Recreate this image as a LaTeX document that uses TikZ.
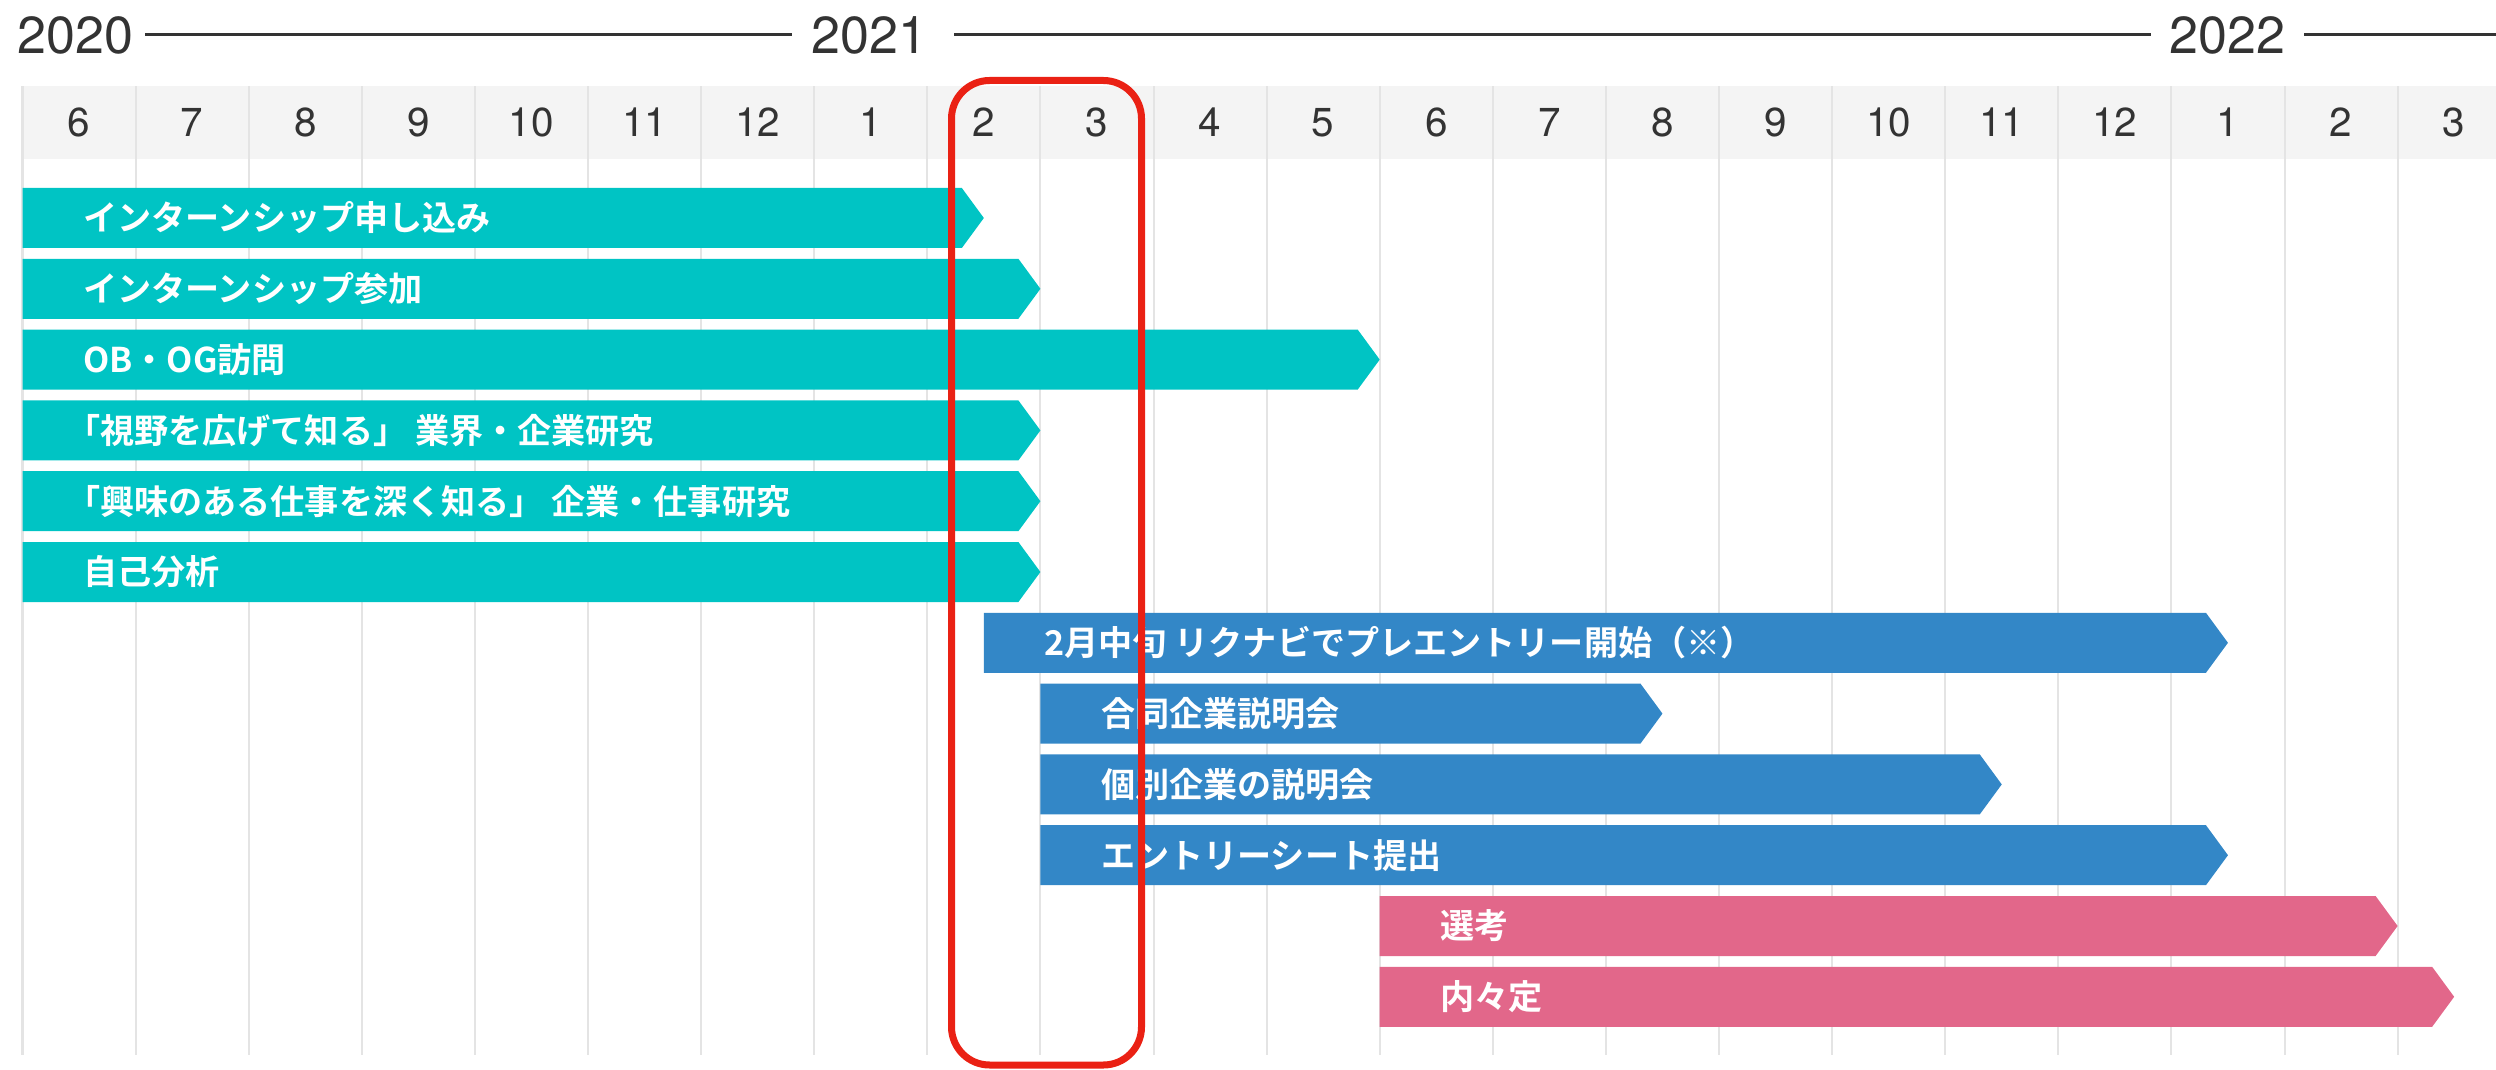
\documentclass[tikz,border=0pt]{standalone}
\usepackage{fontspec}
\setmainfont{TeX Gyre Heros}
\newfontfamily\jpfont{Noto Sans CJK JP}[BoldFont={Noto Sans CJK JP Bold}]

\definecolor{ink}{RGB}{51,51,51}
\definecolor{headgray}{RGB}{244,244,244}
\definecolor{gridgray}{RGB}{228,228,228}
\definecolor{barteal}{RGB}{0,196,196}
\definecolor{barblue}{RGB}{51,135,199}
\definecolor{barpink}{RGB}{226,103,138}
\definecolor{focusred}{RGB}{234,33,20}

% [inset]{name}{row}{start month}{tip month}{colour}{text}
\newcommand{\ganttbar}[7][60]{%
  \pgfmathsetmacro{\ya}{188+70.8*#3}
  \pgfmathsetmacro{\yb}{\ya+60}
  \pgfmathsetmacro{\ym}{\ya+30}
  \pgfmathsetmacro{\xa}{22.5+113.1*#4}
  \pgfmathsetmacro{\xt}{22.5+113.1*#5}
  \pgfmathsetmacro{\xe}{\xt-22}
  \fill[#6] (\xa,\ya) -- (\xe,\ya) -- (\xt,\ym) -- (\xe,\yb) -- (\xa,\yb) -- cycle;
  \node[bartext] (#2) at (\xa+#1,\ym) {#7};
}

\begin{document}
\begin{tikzpicture}[
  x=0.01cm, y=-0.01cm,
  year/.style={anchor=west, inner sep=0pt, text=ink, font=\fontsize{14.8pt}{15pt}\selectfont},
  month/.style={inner sep=0pt, text=ink, font=\fontsize{11.5pt}{12pt}\selectfont},
  bartext/.style={anchor=west, inner sep=0pt, text=white, font=\jpfont\bfseries\fontsize{9.7pt}{11pt}\selectfont},
  yearline/.style={draw=ink, line width=0.03cm},
  gridline/.style={draw=gridgray, line width=0.02cm},
  focus/.style={draw=focusred, line width=0.07cm, rounded corners=0.38cm}
]
\clip (0,0) rectangle (2496,1070);

% Header and grid
\fill[headgray] (22.5,86) rectangle (2520,159);
\foreach \i in {0,...,22}
  \draw[gridline] (22.5+113.1*\i,86) -- (22.5+113.1*\i,1055);
\foreach \m [count=\i from 0] in {6,7,8,9,10,11,12,1,2,3,4,5,6,7,8,9,10,11,12,1,2,3}
  \node[month] (m\i) at (79.05+113.1*\i,122.5) {\m};

% Years
\node[year] (y2020) at (17,35) {2020};
\node[year] (y2021) at (811,35) {2021};
\node[year] (y2022) at (2169,35) {2022};
\coordinate (yend) at (2496,35);
\draw[yearline] ([xshift=0.11cm]y2020.east) -- ([xshift=-0.19cm]y2021.west);
\draw[yearline] ([xshift=0.26cm]y2021.east) -- ([xshift=-0.18cm]y2022.west);
\draw[yearline] ([xshift=0.18cm]y2022.east) -- (yend);

% Bars
\ganttbar{b1}{0}{0}{8.5}{barteal}{インターンシップ申し込み}
\ganttbar{b2}{1}{0}{9}{barteal}{インターンシップ参加}
\ganttbar{b3}{2}{0}{12}{barteal}{OB・OG訪問}
\ganttbar[43]{b4}{3}{0}{9}{barteal}{「視野を広げて知る」 業界・企業研究}
\ganttbar[43]{b5}{4}{0}{9}{barteal}{「興味のある仕事を深く知る」 企業・仕事研究}
\ganttbar{b6}{5}{0}{9}{barteal}{自己分析}
\ganttbar{b7}{6}{8.5}{19.5}{barblue}{2月中旬 リクナビでプレエントリー開始（※）}
\ganttbar{b8}{7}{9}{14.5}{barblue}{合同企業説明会}
\ganttbar{b9}{8}{9}{17.5}{barblue}{個別企業の説明会}
\ganttbar{b10}{9}{9}{19.5}{barblue}{エントリーシート提出}
\ganttbar{b11}{10}{12}{21}{barpink}{選考}
\ganttbar{b12}{11}{12}{21.5}{barpink}{内々定}

% Highlight Feb-Mar
\draw[focus] (951.5,80.5) rectangle (1141.5,1065);

\end{tikzpicture}
\end{document}
